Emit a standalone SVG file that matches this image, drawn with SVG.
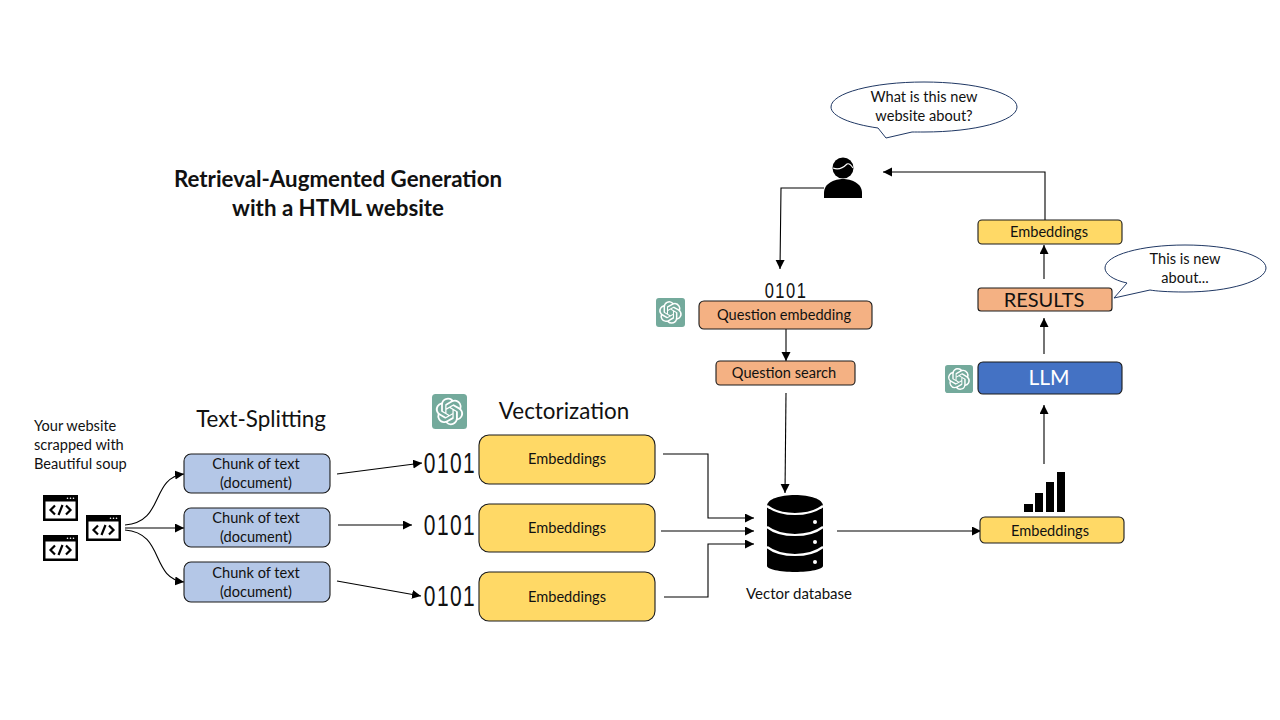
<svg xmlns="http://www.w3.org/2000/svg" xmlns:xlink="http://www.w3.org/1999/xlink" width="1280" height="720" viewBox="0 0 1280 720">
<style>
text{font-family:"Lato","Liberation Sans",sans-serif;fill:#111;text-anchor:middle}
.box{stroke:#1a1a1a;stroke-width:1.1}
.blue{fill:#b4c7e7}.yel{fill:#ffd966}.org{fill:#f4b183}.llm{fill:#4472c4}
.t14{font-size:14.6px}.h{font-size:22.4px}
.c{fill:none;stroke:#000;stroke-width:1.1;marker-end:url(#a)}
.bin{font-family:"Liberation Sans",sans-serif;font-size:30px;letter-spacing:2px}
.title{font-size:22.3px;font-weight:700}
.sep{fill:none;stroke:#fff;stroke-width:2.2}
</style>
<defs>
<marker id="a" markerUnits="userSpaceOnUse" markerWidth="10" markerHeight="10" refX="9" refY="4.5" orient="auto"><path d="M0 0L9 4.5L0 9Z" fill="#000"/></marker>
<symbol id="web" viewBox="0 0 35 26" overflow="visible">
<rect width="35" height="26" fill="#000"/><rect x="2.5" y="6.5" width="30" height="17" fill="#fff"/>
<circle cx="24.5" cy="3.3" r=".8" fill="#fff"/><circle cx="27.5" cy="3.3" r=".8" fill="#fff"/><circle cx="30.5" cy="3.3" r=".8" fill="#fff"/>
<path d="M12 10.5L7.5 15L12 19.5M23 10.5L27.5 15L23 19.5M19.5 10L15.5 20" fill="none" stroke="#000" stroke-width="2.2"/>
</symbol>
<symbol id="gpt" viewBox="0 0 30 30" overflow="visible">
<rect width="30" height="30" rx="3" fill="#74aa9c"/>
<path fill="#fff" transform="translate(3.2 3.2) scale(.98)" d="M22.2819 9.8211a5.9847 5.9847 0 0 0-.5157-4.9108 6.0462 6.0462 0 0 0-6.5098-2.9A6.0651 6.0651 0 0 0 4.9807 4.1818a5.9847 5.9847 0 0 0-3.9977 2.9 6.0462 6.0462 0 0 0 .7427 7.0966 5.98 5.98 0 0 0 .511 4.9107 6.051 6.051 0 0 0 6.5146 2.9001A5.9847 5.9847 0 0 0 13.2599 24a6.0557 6.0557 0 0 0 5.7718-4.2058 5.9894 5.9894 0 0 0 3.9977-2.9001 6.0557 6.0557 0 0 0-.7475-7.0729zm-9.022 12.6081a4.4755 4.4755 0 0 1-2.8764-1.0408l.1419-.0804 4.7783-2.7582a.7948.7948 0 0 0 .3927-.6813v-6.7369l2.02 1.1686a.071.071 0 0 1 .038.052v5.5826a4.504 4.504 0 0 1-4.4945 4.4944zm-9.6607-4.1254a4.4708 4.4708 0 0 1-.5346-3.0137l.142.0852 4.783 2.7582a.7712.7712 0 0 0 .7806 0l5.8428-3.3685v2.3324a.0804.0804 0 0 1-.0332.0615L9.74 19.9502a4.4992 4.4992 0 0 1-6.1408-1.6464zM2.3408 7.8956a4.485 4.485 0 0 1 2.3655-1.9728V11.6a.7664.7664 0 0 0 .3879.6765l5.8144 3.3543-2.0201 1.1685a.0757.0757 0 0 1-.071 0l-4.8303-2.7865A4.504 4.504 0 0 1 2.3408 7.872zm16.5963 3.8558L13.1038 8.364 15.1192 7.2a.0757.0757 0 0 1 .071 0l4.8303 2.7913a4.4944 4.4944 0 0 1-.6765 8.1042v-5.6772a.79.79 0 0 0-.407-.667zm2.0107-3.0231l-.142-.0852-4.7735-2.7818a.7759.7759 0 0 0-.7854 0L9.409 9.2297V6.8974a.0662.0662 0 0 1 .0284-.0615l4.8303-2.7866a4.4992 4.4992 0 0 1 6.6802 4.66zM8.3065 12.863l-2.02-1.1638a.0804.0804 0 0 1-.038-.0567V6.0742a4.4992 4.4992 0 0 1 7.3757-3.4537l-.142.0805L8.704 5.459a.7948.7948 0 0 0-.3927.6813zm1.0976-2.3654l2.602-1.4998 2.6069 1.4998v2.9994l-2.5974 1.4997-2.6067-1.4997Z"/>
</symbol>
</defs>
<rect width="1280" height="720" fill="#fff"/>

<g id="title">
<text class="title" x="338" y="187">Retrieval-Augmented Generation</text>
<text class="title" x="338" y="216">with a HTML website</text>
</g>
<g id="source-label">
<text class="t14" x="34" y="431" style="text-anchor:start">Your website</text>
<text class="t14" x="34" y="450" style="text-anchor:start">scrapped with</text>
<text class="t14" x="34" y="469" style="text-anchor:start">Beautiful soup</text>
</g>
<g id="web-icons">
<use xlink:href="#web" href="#web" x="43" y="495" width="35" height="26"/>
<use xlink:href="#web" href="#web" x="86" y="515" width="35" height="26"/>
<use xlink:href="#web" href="#web" x="43" y="535" width="35" height="26"/>
</g>
<text id="text-splitting" class="h" x="261" y="427">Text-Splitting</text>
<text id="vectorization" class="h" x="564" y="419">Vectorization</text>

<g id="connectors">
<path class="c" d="M125 525C165 522 150 478 184 474"/>
<path class="c" d="M125 528H184"/>
<path class="c" d="M125 530C165 533 150 578 184 582"/>
<path class="c" d="M337 474L422 463"/>
<path class="c" d="M338 525H412"/>
<path class="c" d="M337 581L421 596"/>
<path class="c" d="M663 454H708V518H754"/>
<path class="c" d="M661 531H754"/>
<path class="c" d="M664 597H708V544H754"/>
<path class="c" d="M837 531H981"/>
<path class="c" d="M1044 464V405"/>
<path class="c" d="M1044 354V318"/>
<path class="c" d="M1044 279V245"/>
<path class="c" d="M1045 220V172H883"/>
<path class="c" d="M824 188H781L780 269"/>
<path class="c" d="M786 329V361"/>
<path class="c" d="M786 393L785 493"/>
</g>

<g id="chunk-1"><rect class="box blue" x="184" y="454" width="146" height="39" rx="7"/><text class="t14" x="256" y="469">Chunk of text</text><text class="t14" x="256" y="488">(document)</text></g>
<g id="chunk-2"><rect class="box blue" x="184" y="508" width="146" height="39" rx="7"/><text class="t14" x="256" y="523">Chunk of text</text><text class="t14" x="256" y="542">(document)</text></g>
<g id="chunk-3"><rect class="box blue" x="184" y="562" width="146" height="40" rx="7"/><text class="t14" x="256" y="578">Chunk of text</text><text class="t14" x="256" y="597">(document)</text></g>

<g id="bin-1"><text class="bin" transform="translate(450 473) scale(.7 1)">0101</text></g>
<g id="bin-2"><text class="bin" transform="translate(450 535) scale(.7 1)">0101</text></g>
<g id="bin-3"><text class="bin" transform="translate(450 606) scale(.7 1)">0101</text></g>
<g id="bin-top"><text class="bin" transform="translate(786 298) scale(.75 1)" style="font-size:22px">0101</text></g>

<g id="emb-1"><rect class="box yel" x="479" y="435" width="176" height="49" rx="10"/><text class="t14" x="567" y="464">Embeddings</text></g>
<g id="emb-2"><rect class="box yel" x="479" y="504" width="176" height="48" rx="10"/><text class="t14" x="567" y="533">Embeddings</text></g>
<g id="emb-3"><rect class="box yel" x="479" y="572" width="176" height="49" rx="10"/><text class="t14" x="567" y="602">Embeddings</text></g>

<g id="vector-database">
<path fill="#000" d="M767 506C767 499 780 495 795 495S823 499 823 506V566C823 569 810 572 795 572S767 569 767 566Z"/>
<path class="sep" d="M767 506C775 512 785 514 795 514S815 512 823 506"/>
<path class="sep" d="M767 527C775 533 785 535 795 535S815 533 823 527"/>
<path class="sep" d="M767 547C775 553 785 555 795 555S815 553 823 547"/>
<circle cx="815" cy="522" r="2" fill="#fff"/><circle cx="815" cy="542" r="2" fill="#fff"/><circle cx="815" cy="562" r="2" fill="#fff"/>
<text x="799" y="599" style="font-size:15px">Vector database</text>
</g>

<g id="bars" fill="#000">
<rect x="1024" y="504" width="9" height="8"/><rect x="1035" y="493" width="8" height="19"/><rect x="1046" y="482" width="8" height="30"/><rect x="1057" y="472" width="8" height="40"/>
</g>
<g id="emb-db"><rect class="box yel" x="980" y="517" width="144" height="26" rx="5"/><text class="t14" x="1050" y="536">Embeddings</text></g>
<g id="llm"><rect class="box llm" x="978" y="362" width="144" height="32" rx="5"/><text x="1049" y="385" style="font-size:21px;fill:#fff">LLM</text></g>
<g id="results"><rect class="box org" x="978" y="288" width="134" height="23" rx="3"/><text x="1044" y="307" style="font-size:20px">RESULTS</text></g>
<g id="emb-top"><rect class="box yel" x="978" y="220" width="144" height="24" rx="4"/><text class="t14" x="1049" y="237">Embeddings</text></g>
<g id="question-embedding"><rect class="box org" x="699" y="301" width="173" height="28" rx="5"/><text class="t14" x="784" y="320">Question embedding</text></g>
<g id="question-search"><rect class="box org" x="716" y="361" width="139" height="24" rx="4"/><text class="t14" x="784" y="378">Question search</text></g>

<use id="gpt-1" xlink:href="#gpt" href="#gpt" x="432" y="394" width="35" height="35"/>
<use id="gpt-2" xlink:href="#gpt" href="#gpt" x="656" y="298" width="29" height="29"/>
<use id="gpt-3" xlink:href="#gpt" href="#gpt" x="944" y="365" width="30" height="28"/>

<g id="user" fill="#000">
<path d="M824 198V193C824 183 835 179 843 179C851 179 862 183 862 193V198Z"/>
<circle cx="843" cy="168" r="10.5"/>
<path d="M833 168C838 170 843 168 847 164C849 163 851 165 853 168" fill="none" stroke="#fff" stroke-width="1.1"/>
</g>

<g id="callout-question">
<path d="M924 82C975 82 1017 93 1017 107C1017 121 975 132 924 132C919 132 915 132 912 132L886 138L878 128C850 124 831 116 831 107C831 93 873 82 924 82Z" fill="#fff" stroke="#203864" stroke-width="1"/>
<text class="t14" x="924" y="102">What is this new</text>
<text class="t14" x="924" y="121">website about?</text>
</g>
<g id="callout-results">
<path d="M1185 245C1229 245 1266 255 1266 268C1266 281 1229 292 1185 292C1168 292 1155 291 1150 290L1114 298L1127 283C1113 280 1105 274 1105 268C1105 255 1141 245 1185 245Z" fill="#fff" stroke="#203864" stroke-width="1"/>
<text class="t14" x="1185" y="264">This is new</text>
<text class="t14" x="1185" y="283">about...</text>
</g>
</svg>
